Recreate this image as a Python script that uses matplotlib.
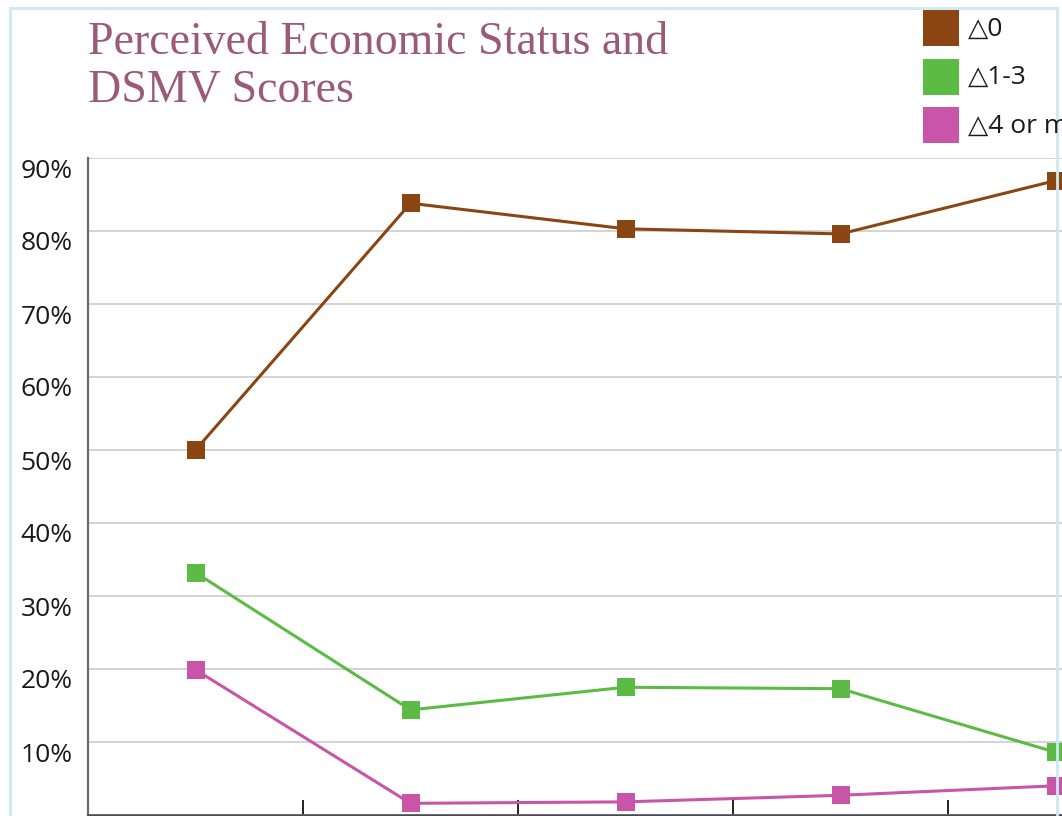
import numpy as np
import matplotlib.pyplot as plt
from matplotlib.patches import Rectangle
from matplotlib.lines import Line2D
from matplotlib.transforms import ScaledTranslation

# share of respondents per perceived economic status group
groups = np.arange(5)
change_0 = [0.50, 0.838, 0.803, 0.796, 0.869]
change_1_3 = [0.332, 0.144, 0.175, 0.173, 0.086]
change_4_plus = [0.199, 0.016, 0.018, 0.027, 0.040]

series_names = ["\u25b30", "\u25b31-3", "\u25b34 or more"]
series_colors = ["#8B4513", "#5BBB45", "#C955A8"]
yticks = [0.0, 0.1, 0.2, 0.3, 0.4, 0.5, 0.6, 0.7, 0.8, 0.9]

sans = ["Open Sans", "DejaVu Sans"]

fig = plt.figure(figsize=(10.62, 8.16), dpi=100)
fig.patch.set_facecolor("white")

# plot area runs past the right edge of the page
ax = fig.add_axes([88 / 1062, 1 / 816, 1075 / 1062, 657 / 816])

for vals, color in zip([change_0, change_1_3, change_4_plus], series_colors):
    ax.plot(groups, vals, color=color, lw=2.2, marker="s", ms=13,
            markeredgewidth=0, zorder=3)

ax.set_xlim(-0.5, 4.5)
ax.set_ylim(0, 0.9)
ax.set_yticks(yticks)
ax.set_yticklabels([f"{int(round(t * 100))}%" for t in yticks],
                   fontsize=19, family=sans, color="#1a1a1a")
ax.set_xticks(groups[:-1] + 0.5)
ax.set_xticklabels([])
ax.tick_params(axis="x", direction="in", length=11, width=1.4, color="#222222")
ax.tick_params(axis="y", length=0, pad=11)
ax.grid(axis="y", color="#C8C8C8", lw=1.1)
ax.set_axisbelow(True)

for side in ["top", "right"]:
    ax.spines[side].set_visible(False)
ax.spines["left"].set_color("#6a6a6a")
ax.spines["left"].set_linewidth(1.6)
ax.spines["bottom"].set_color("#4a4a55")
ax.spines["bottom"].set_linewidth(1.8)

# nudge tick labels a little below their gridlines
shift = ScaledTranslation(0, -10 / 100, fig.dpi_scale_trans)
for lab in ax.get_yticklabels():
    lab.set_transform(lab.get_transform() + shift)

# title
fig.text(88 / 1062, 1 - 54 / 816, "Perceived Economic Status and",
         fontsize=33, family="Liberation Serif", color="#9A5A78", va="baseline")
fig.text(88 / 1062, 1 - 101 / 816, "DSMV Scores",
         fontsize=33, family="Liberation Serif", color="#9A5A78", va="baseline")

# legend squares and labels
for i, (name, color) in enumerate(zip(series_names, series_colors)):
    top = 10 + i * 48.5
    fig.add_artist(Rectangle((923 / 1062, 1 - (top + 36) / 816), 36 / 1062, 36 / 816,
                             transform=fig.transFigure, color=color, lw=0))
    fig.text(968 / 1062, 1 - (top + 19) / 816, name, fontsize=19, family=sans,
             color="#1a1a1a", va="center")

# thin pale blue frame
frame = dict(transform=fig.transFigure, color="#CDE9F2", lw=2)
fig.add_artist(Line2D([10 / 1062, 10 / 1062], [0, 1 - 8 / 816], **frame))
fig.add_artist(Line2D([10 / 1062, 1057 / 1062], [1 - 8 / 816, 1 - 8 / 816], **frame))
fig.add_artist(Line2D([1057 / 1062, 1057 / 1062], [0, 1 - 8 / 816], **frame))

fig.savefig("out.png", dpi=100)
